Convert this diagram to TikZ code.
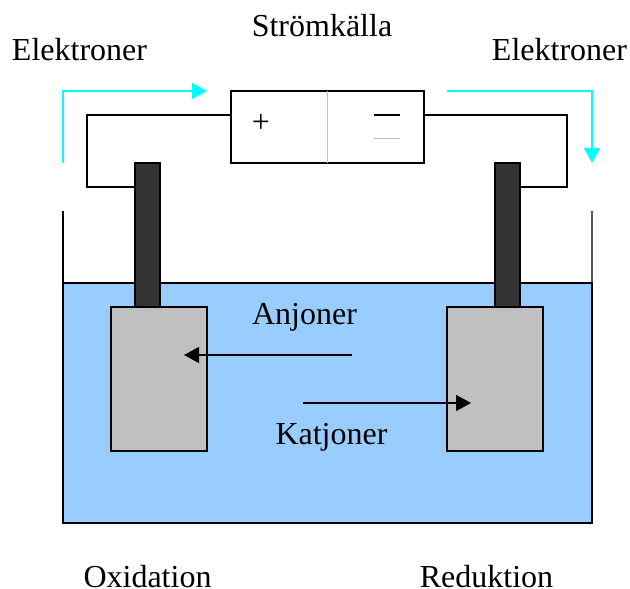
\documentclass[tikz,border=0pt]{standalone}
\usepackage{fontspec}
\setmainfont{Liberation Serif}
\usetikzlibrary{arrows.meta}
\definecolor{waterblue}{HTML}{99CCFF}
\definecolor{electrodedark}{HTML}{333333}
\definecolor{plategray}{HTML}{C0C0C0}
\definecolor{flowcyan}{HTML}{00FFFF}
\tikzset{
  x=1bp,y=-1bp,
  line/.style={line width=1.3bp,black},
  box/.style={draw=black,line width=1.3bp,inner sep=0pt,outer sep=0pt,anchor=north west},
  water/.style={box,fill=waterblue,minimum width=529bp,minimum height=240bp},
  electrode/.style={box,fill=electrodedark,minimum width=25bp,minimum height=144bp},
  plate/.style={box,fill=plategray,minimum width=96bp,minimum height=144bp},
  source/.style={box,minimum width=193bp,minimum height=72bp},
  label/.style={font=\fontsize{32bp}{36bp}\selectfont,inner sep=0pt},
  flow/.style={draw=flowcyan,line width=1.3bp,-{Triangle[length=15bp,width=16bp,fill=flowcyan]}},
  ion/.style={line width=1.1bp,black,-{Triangle[length=15bp,width=16bp,fill=black]}},
}
\begin{document}
\begin{tikzpicture}
\useasboundingbox (0,0) rectangle (630,589);
% beaker and liquid
\node[water] (bath) at (63,283) {};
\coordinate (beakerL) at (63,211);
\coordinate (beakerR) at (592,211);
\coordinate (surfA) at (400,283);
\coordinate (surfB) at (447,283);
\draw[line] (beakerL) -- (bath.north west);
\draw[line] (beakerR) -- (bath.north east);
\draw[line width=1.7bp,black] (surfA) -- (surfB);
% power source
\node[source] (psu) at (231,91) {};
\coordinate (splitT) at (327.5,91);
\coordinate (splitB) at (327.5,163);
\draw[line width=1.5bp,plategray] (splitT) -- (splitB);
\node[label] (plus) at (261,123) {+};
\coordinate (minA) at (374,115);
\coordinate (minB) at (400,115);
\coordinate (minC) at (374,139);
\coordinate (minD) at (400,139);
\draw[line width=1.8bp,black] (minA) -- (minB);
\draw[line width=0.7bp,draw=plategray,double=white,double distance=0.8bp] (minC) -- (minD);
% electrodes and plates
\node[electrode] (elecL) at (135,163) {};
\node[electrode] (elecR) at (495,163) {};
\node[plate] (plateL) at (111,307) {};
\node[plate] (plateR) at (447,307) {};
% wires
\coordinate (wireLt) at (87,115);
\coordinate (wireLb) at (87,187);
\coordinate (wireRt) at (567,115);
\coordinate (wireRb) at (567,187);
\draw[line] (wireLt -| psu.west) -- (wireLt) -- (wireLb) -- (wireLb -| elecL.west);
\draw[line] (wireRt -| psu.east) -- (wireRt) -- (wireRb) -- (wireRb -| elecR.east);
% electron flow
\coordinate (flowLa) at (63,163);
\coordinate (flowLb) at (63,91);
\coordinate (flowLc) at (207,91);
\coordinate (flowRa) at (447,91);
\coordinate (flowRb) at (592,91);
\coordinate (flowRc) at (592,163);
\draw[flow] (flowLa) -- (flowLb) -- (flowLc);
\draw[flow] (flowRa) -- (flowRb) -- (flowRc);
% ion flow
\coordinate (anA) at (352,355);
\coordinate (anB) at (184,355);
\coordinate (katA) at (303,403);
\coordinate (katB) at (471,403);
\draw[ion] (anA) -- (anB);
\draw[ion] (katA) -- (katB);
% labels
\node[label] (title) at (322,26) {Strömkälla};
\node[label] (elL) at (79.5,50) {Elektroner};
\node[label] (elR) at (559.5,50) {Elektroner};
\node[label] (anj) at (304.5,317) {Anjoner};
\node[label] (kat) at (331.5,437) {Katjoner};
\node[label] (oxi) at (147.5,576.5) {Oxidation};
\node[label] (red) at (486.5,576.5) {Reduktion};
\end{tikzpicture}
\end{document}
